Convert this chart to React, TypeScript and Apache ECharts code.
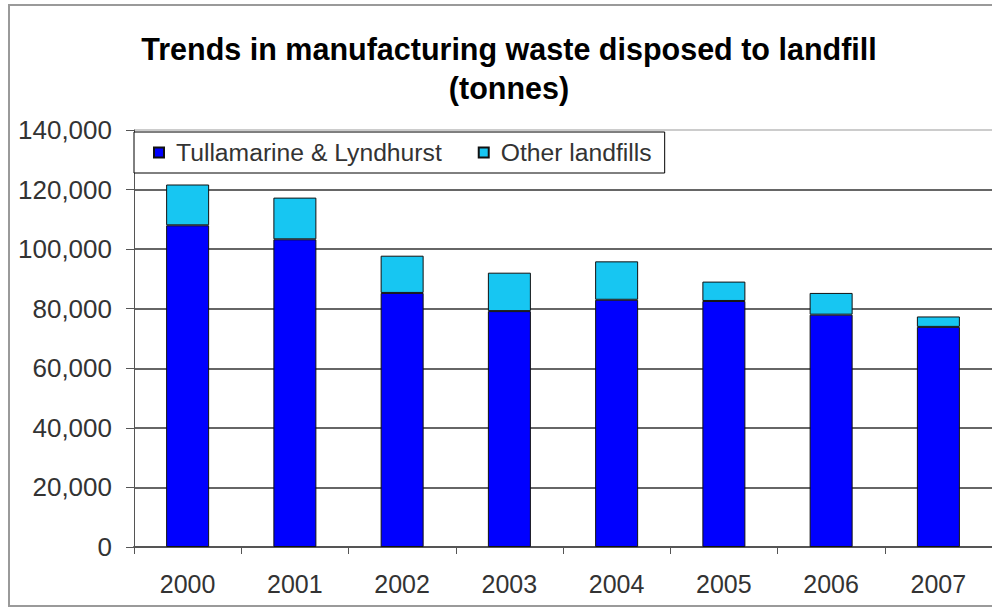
import React, { useEffect, useRef } from "react";
import * as echarts from "echarts";

const years = ["2000", "2001", "2002", "2003", "2004", "2005", "2006", "2007"];
const tullamarineLyndhurst = [108000, 103300, 85300, 79200, 83000, 82600, 78000, 73900];
const otherLandfills = [13700, 14000, 12500, 12900, 12900, 6500, 7300, 3500];
const titleLines = ["Trends in manufacturing waste disposed to landfill", "(tonnes)"];
const seriesNames = ["Tullamarine & Lyndhurst", "Other landfills"];

const FONT = "'Liberation Sans', Arial, sans-serif";

export default function App() {
  const ref = useRef<HTMLDivElement>(null);
  useEffect(() => {
    document.body.style.margin = "0";
    const chart = echarts.init(ref.current!, null, { renderer: "svg" });
    chart.setOption({
      animation: false,
      backgroundColor: "#ffffff",
      title: {
        text: titleLines.join("\n"),
        left: 504,
        textAlign: "center",
        top: 24,
        textStyle: {
          fontFamily: FONT,
          fontSize: 30.5,
          fontWeight: "bold",
          color: "#000",
          lineHeight: 39,
        },
      },
      graphic: [
        {
          type: "rect",
          shape: { x: 9, y: 5, width: 1000, height: 601 },
          style: { fill: "none", stroke: "#9a9a9a", lineWidth: 2 },
          silent: true,
          z: 100,
        },
      ],
      legend: {
        left: 134,
        top: 132,
        itemWidth: 10,
        itemHeight: 10,
        itemGap: 36,
        icon: "rect",
        padding: [8, 13, 8, 19],
        borderColor: "#000",
        borderWidth: 1,
        backgroundColor: "#fff",
        textStyle: {
          fontFamily: FONT,
          fontSize: 24.7,
          color: "#333",
          padding: [0, 0, 0, 7],
        },
        data: seriesNames,
      },
      grid: { left: 134, top: 130, width: 869, height: 417, containLabel: false },
      xAxis: {
        type: "category",
        data: years,
        boundaryGap: true,
        axisLine: { lineStyle: { color: "#555", width: 2 } },
        axisTick: { show: true, length: 7, lineStyle: { color: "#555" } },
        axisLabel: { fontFamily: FONT, fontSize: 25, color: "#333", margin: 24 },
      },
      yAxis: {
        type: "value",
        min: 0,
        max: 140000,
        interval: 20000,
        axisLine: { show: true, lineStyle: { color: "#555", width: 1 } },
        axisTick: { show: true, length: 8, lineStyle: { color: "#555" } },
        axisLabel: {
          fontFamily: FONT,
          fontSize: 26,
          color: "#333",
          margin: 22,
          formatter: (v: number) => v.toLocaleString("en-US"),
        },
        splitLine: {
          show: true,
          lineStyle: {
            color: ["#333", "#333", "#333", "#333", "#333", "#333", "#333", "#bbb"],
            width: 1.5,
          },
        },
      },
      series: [
        {
          name: seriesNames[0],
          type: "bar",
          stack: "total",
          data: tullamarineLyndhurst,
          barWidth: 43,
          itemStyle: { color: "#0000ff", borderColor: "#111", borderWidth: 1 },
        },
        {
          name: seriesNames[1],
          type: "bar",
          stack: "total",
          data: otherLandfills,
          barWidth: 43,
          itemStyle: { color: "#17c6f2", borderColor: "#111", borderWidth: 1 },
        },
      ],
    });
    return () => chart.dispose();
  }, []);
  return (
    <div
      ref={ref}
      style={{ position: "absolute", left: 0, top: 0, width: 992, height: 608 }}
    />
  );
}
